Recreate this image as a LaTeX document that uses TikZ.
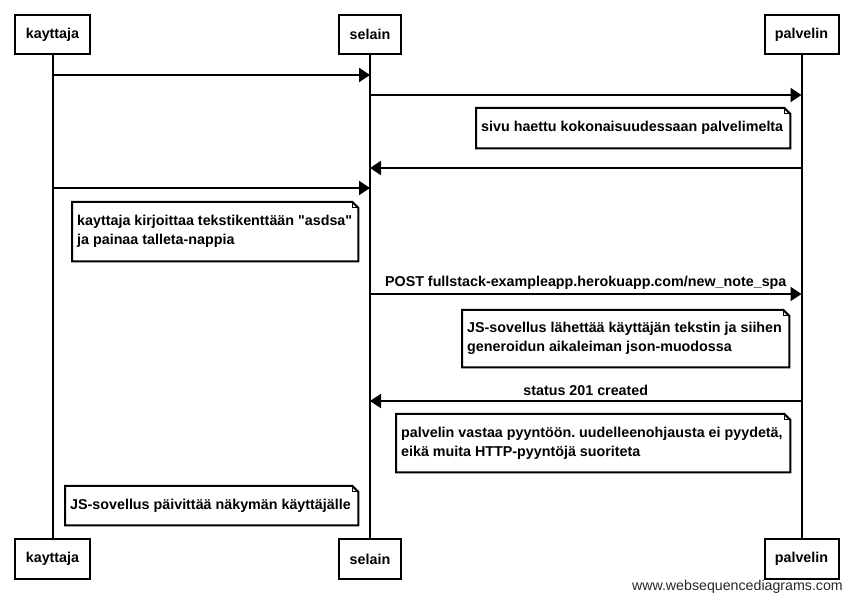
\documentclass[tikz,border=0pt]{standalone}
\usepackage{fontspec}
\setmainfont{Liberation Sans}[Ligatures=TeXOff]
\usetikzlibrary{arrows.meta,calc}

\tikzset{
  base/.style={font=\fontsize{14.3}{19}\selectfont\bfseries},
  actor/.style={base, draw, line width=2pt, minimum height=39pt, inner sep=0pt, fill=white},
  lifeline/.style={line width=2pt},
  msg/.style={line width=2pt, -{Triangle[length=11pt,width=14pt]}},
  notebox/.style={inner sep=0pt, anchor=north west},
  notetext/.style={base, inner sep=0pt, anchor=west, align=left},
  noteline/.style={line width=2pt, line join=miter},
  foldline/.style={line width=1pt},
  msglabel/.style={base, inner sep=0pt},
}

\begin{document}
\frenchspacing
\begin{tikzpicture}[x=1pt, y=-1pt]
  \useasboundingbox (0,0) rectangle (852,601);

  % participants, top and bottom
  \node[actor, minimum width=75pt] (kt) at (52.5,34.5) {kayttaja};
  \node[actor, minimum width=62pt] (st) at (370,34.5) {selain};
  \node[actor, minimum width=74pt] (pt) at (801.5,34.5) {palvelin};
  \node[actor, minimum width=75pt] (kb) at (52.5,559) {kayttaja};
  \node[actor, minimum width=62pt] (sb) at (370,559) {selain};
  \node[actor, minimum width=74pt] (pb) at (801.5,559) {palvelin};

  % lifelines
  \draw[lifeline] (kt.south) -- (kb.north);
  \draw[lifeline] (st.south) -- (sb.north);
  \draw[lifeline] (pt.south) -- (pb.north);

  % message end points on the lifelines
  \path (kt.south |- 0,75)  coordinate (k1);
  \path (st.south |- 0,75)  coordinate (s1);
  \path (st.south |- 0,95)  coordinate (s2);
  \path (pt.south |- 0,95)  coordinate (p2);
  \path (pt.south |- 0,168) coordinate (p3);
  \path (st.south |- 0,168) coordinate (s3);
  \path (kt.south |- 0,188) coordinate (k4);
  \path (st.south |- 0,188) coordinate (s4);
  \path (st.south |- 0,294) coordinate (s5);
  \path (pt.south |- 0,294) coordinate (p5);
  \path (pt.south |- 0,401) coordinate (p6);
  \path (st.south |- 0,401) coordinate (s6);

  % messages
  \draw[msg] (k1) -- (s1);
  \draw[msg] (s2) -- (p2);
  \draw[msg] (p3) -- (s3);
  \draw[msg] (k4) -- (s4);
  \draw[msg] (s5) -- node[msglabel, above=3.5pt] (l5) {POST fullstack-exampleapp.herokuapp.com/new\_note\_spa} (p5);
  \draw[msg] (p6) -- node[msglabel, above=4.5pt] (l6) {status 201 created} (s6);

  % note frames
  \node[notebox, minimum width=314pt, minimum height=40pt] (n1) at (476,108) {};
  \node[notebox, minimum width=286pt, minimum height=59pt] (n2) at (72,202) {};
  \node[notebox, minimum width=327pt, minimum height=57pt] (n3) at (462,310) {};
  \node[notebox, minimum width=394pt, minimum height=58pt] (n4) at (396,414) {};
  \node[notebox, minimum width=293pt, minimum height=39pt] (n5) at (65,486) {};

  % note outlines with a folded corner
  \foreach \n in {n1,n2,n3,n4,n5} {
    \draw[noteline] (\n.north west) -- ([xshift=-6pt]\n.north east)
      -- ([yshift=-6pt]\n.north east) -- (\n.south east) -- (\n.south west) -- cycle;
    \draw[foldline] ([xshift=-6pt]\n.north east) -- ([xshift=-6pt,yshift=-6pt]\n.north east)
      -- ([yshift=-6pt]\n.north east);
  }

  % note texts
  \node[notetext] (t1) at ([xshift=5pt]n1.west)
    {sivu haettu kokonaisuudessaan palvelimelta};
  \node[notetext] (t2) at ([xshift=5pt]n2.west)
    {kayttaja kirjoittaa tekstikenttään "asdsa"\\ja painaa talleta-nappia};
  \node[notetext] (t3) at ([xshift=5pt]n3.west)
    {JS-sovellus lähettää käyttäjän tekstin ja siihen\\generoidun aikaleiman json-muodossa};
  \node[notetext] (t4) at ([xshift=5pt]n4.west)
    {palvelin vastaa pyyntöön. uudelleenohjausta ei pyydetä,\\eikä muita HTTP-pyyntöjä suoriteta};
  \node[notetext] (t5) at ([xshift=5pt]n5.west)
    {JS-sovellus päivittää näkymän käyttäjälle};

  % footer
  \node[font=\fontsize{14.2}{16}\selectfont, anchor=east, inner sep=0pt, text=black!85] (web) at (843,587)
    {www.websequencediagrams.com};
\end{tikzpicture}
\end{document}
